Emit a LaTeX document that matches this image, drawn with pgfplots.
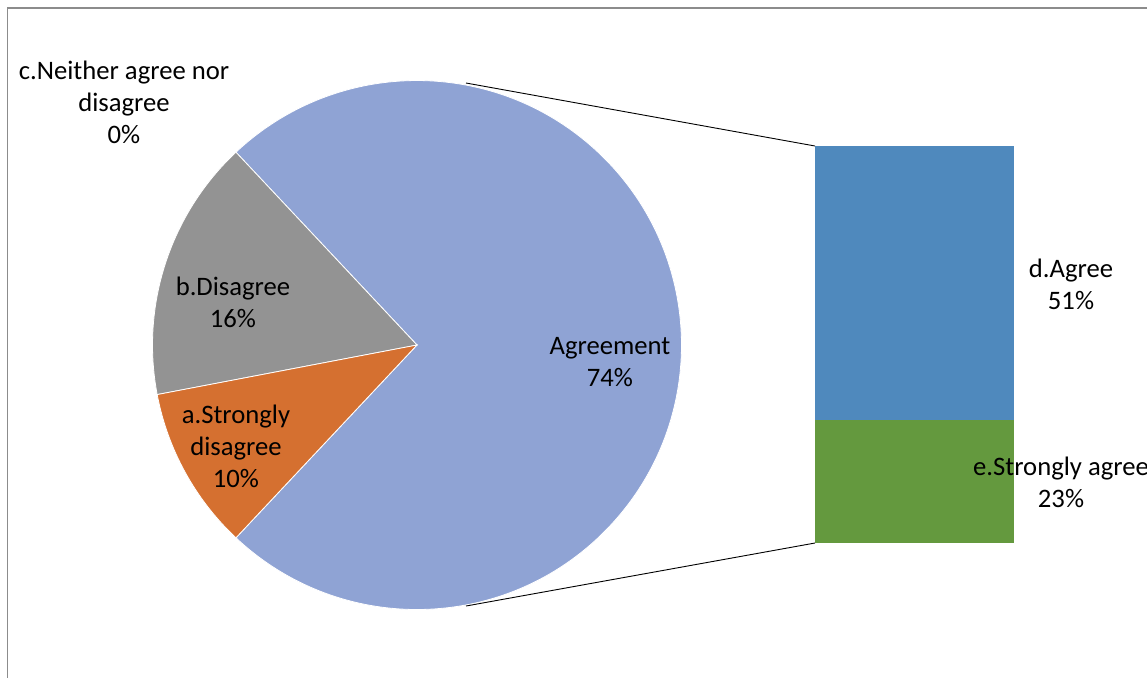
\documentclass[border=0pt]{standalone}
\usepackage{pgfplots}
\pgfplotsset{compat=1.18}
\usepackage{fontspec}
\setmainfont{Carlito}
\definecolor{agreeC}{RGB}{143,163,212}
\definecolor{grayC}{RGB}{147,147,147}
\definecolor{orangeC}{RGB}{213,112,48}
\definecolor{blueC}{RGB}{79,137,189}
\definecolor{greenC}{RGB}{100,153,62}
\definecolor{frameC}{RGB}{140,140,140}
\begin{document}
\begin{tikzpicture}
\clip (0,0) rectangle (573.5pt,338.5pt);
\useasboundingbox (0,0) rectangle (573.5pt,338.5pt);
\begin{axis}[at={(407.5pt,67pt)}, anchor=south west, scale only axis,
  width=99.5pt, height=198.5pt, xmin=0, xmax=1, ymin=0, ymax=74,
  hide axis, clip=false, ybar stacked, bar width=99.5pt]
\addplot[fill=greenC, draw=none] coordinates {(0.5,23)};
\addplot[fill=blueC, draw=none] coordinates {(0.5,51)};
\end{axis}
\begin{axis}[at={(0,0)}, anchor=south west, scale only axis,
  width=573.5pt, height=338.5pt, xmin=0, xmax=1147, ymin=0, ymax=677,
  y dir=reverse, hide axis, clip=false]
% frame
\draw[frameC, line width=0.8pt] (axis cs:7.5,720) -- (axis cs:7.5,8) -- (axis cs:1200,8);
% pie: Agreement 74, b.Disagree 16, a.Strongly disagree 10, c.Neither 0
\fill[agreeC, draw=white, line width=0.4pt] (axis cs:417,345) -- ++(-133.2:132.25pt) arc[start angle=-133.2, end angle=133.2, radius=132.25pt] -- cycle;
\fill[grayC, draw=white, line width=0.4pt] (axis cs:417,345) -- ++(133.2:132.25pt) arc[start angle=133.2, end angle=190.8, radius=132.25pt] -- cycle;
\fill[orangeC, draw=white, line width=0.4pt] (axis cs:417,345) -- ++(190.8:132.25pt) arc[start angle=190.8, end angle=226.8, radius=132.25pt] -- cycle;
% connectors
\draw[black, line width=0.45pt] (axis cs:466,83) -- (axis cs:815,146);
\draw[black, line width=0.45pt] (axis cs:466,606) -- (axis cs:815,543);
% labels
\begin{scope}[every node/.style={align=center, font=\fontsize{13.33pt}{16pt}\selectfont, inner sep=0pt}]
\node at (axis cs:124,102) {c.Neither agree nor\\disagree\\0\%};
\node at (axis cs:233,302) {b.Disagree\\16\%};
\node at (axis cs:236,446) {a.Strongly\\disagree\\10\%};
\node at (axis cs:610,362) {Agreement\\74\%};
\node at (axis cs:1071,284) {d.Agree\\51\%};
\node at (axis cs:1061,482) {e.Strongly agree\\23\%};
\end{scope}
\end{axis}
\end{tikzpicture}
\end{document}
